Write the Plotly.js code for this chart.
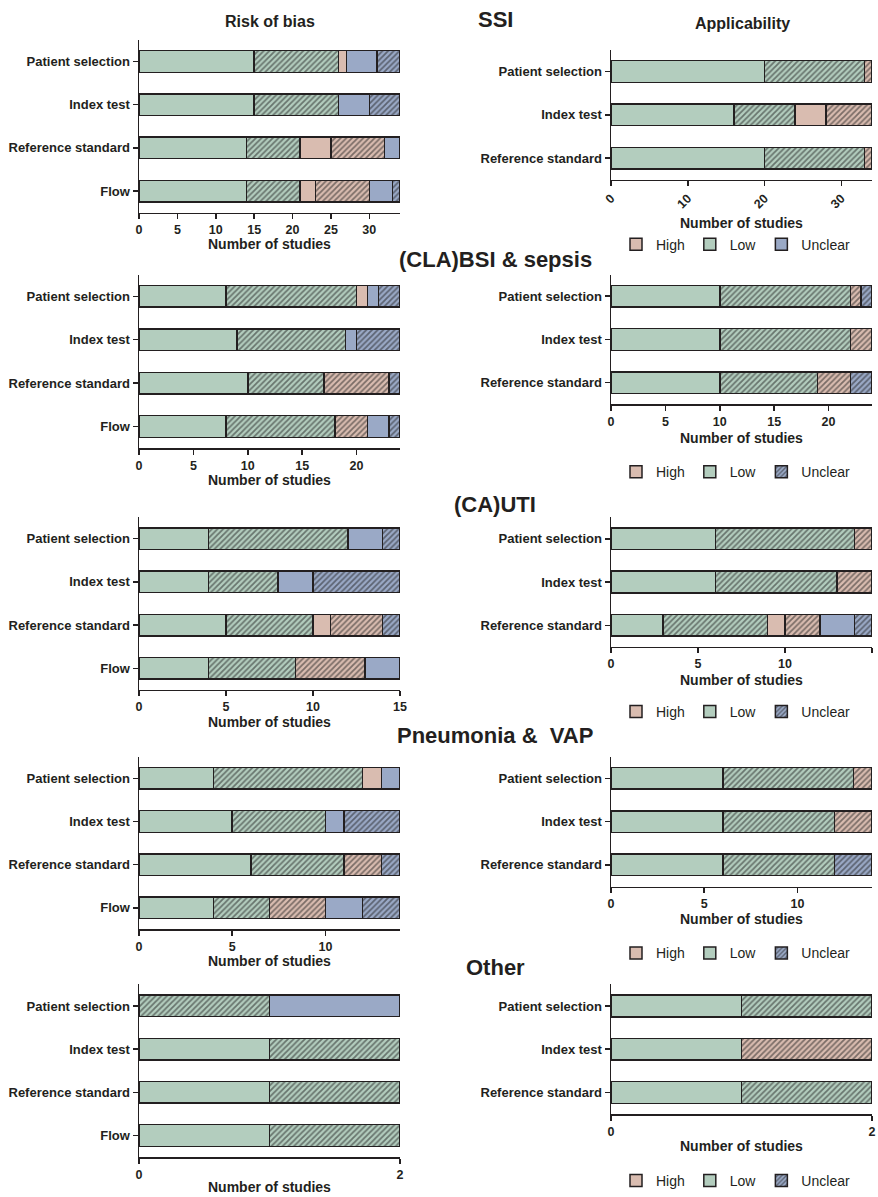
<!DOCTYPE html>
<html><head><meta charset="utf-8">
<script src="https://cdn.plot.ly/plotly-3.0.1.min.js"></script>
<style>html,body{margin:0;padding:0;background:#fff}</style>
</head><body><div id="chart" style="width:878px;height:1197px"></div>
<script>
// ---------- Data ----------
const riskCategories = ['Patient selection', 'Index test', 'Reference standard', 'Flow'];
const applicabilityCategories = ['Patient selection', 'Index test', 'Reference standard'];
const sectionTitles = ['SSI', '(CLA)BSI & sepsis', '(CA)UTI', 'Pneumonia &\u00a0 VAP', 'Other'];
const panelTitles = ['Risk of bias', 'Applicability'];
const legendLabels = ['High', 'Low', 'Unclear'];
const axisTitle = 'Number of studies';

// Segment order in every bar: Low, Low (hatched), High, High (hatched), Unclear, Unclear (hatched)
// SSI
const ssiRiskLow = [15, 15, 14, 14];
const ssiRiskLowH = [11, 11, 7, 7];
const ssiRiskHigh = [1, 0, 4, 2];
const ssiRiskHighH = [0, 0, 7, 7];
const ssiRiskUnclear = [4, 4, 2, 3];
const ssiRiskUnclearH = [3, 4, 0, 1];
const ssiApplLow = [20, 16, 20];
const ssiApplLowH = [13, 8, 13];
const ssiApplHigh = [0, 4, 0];
const ssiApplHighH = [1, 6, 1];
const ssiApplUnclear = [0, 0, 0];
const ssiApplUnclearH = [0, 0, 0];
// (CLA)BSI & sepsis
const bsiRiskLow = [8, 9, 10, 8];
const bsiRiskLowH = [12, 10, 7, 10];
const bsiRiskHigh = [1, 0, 0, 0];
const bsiRiskHighH = [0, 0, 6, 3];
const bsiRiskUnclear = [1, 1, 0, 2];
const bsiRiskUnclearH = [2, 4, 1, 1];
const bsiApplLow = [10, 10, 10];
const bsiApplLowH = [12, 12, 9];
const bsiApplHigh = [0, 0, 0];
const bsiApplHighH = [1, 2, 3];
const bsiApplUnclear = [0, 0, 0];
const bsiApplUnclearH = [1, 0, 2];
// (CA)UTI
const utiRiskLow = [4, 4, 5, 4];
const utiRiskLowH = [8, 4, 5, 5];
const utiRiskHigh = [0, 0, 1, 0];
const utiRiskHighH = [0, 0, 3, 4];
const utiRiskUnclear = [2, 2, 0, 2];
const utiRiskUnclearH = [1, 5, 1, 0];
const utiApplLow = [6, 6, 3];
const utiApplLowH = [8, 7, 6];
const utiApplHigh = [0, 0, 1];
const utiApplHighH = [1, 2, 2];
const utiApplUnclear = [0, 0, 2];
const utiApplUnclearH = [0, 0, 1];
// Pneumonia & VAP
const pneuRiskLow = [4, 5, 6, 4];
const pneuRiskLowH = [8, 5, 5, 3];
const pneuRiskHigh = [1, 0, 0, 0];
const pneuRiskHighH = [0, 0, 2, 3];
const pneuRiskUnclear = [1, 1, 0, 2];
const pneuRiskUnclearH = [0, 3, 1, 2];
const pneuApplLow = [6, 6, 6];
const pneuApplLowH = [7, 6, 6];
const pneuApplHigh = [0, 0, 0];
const pneuApplHighH = [1, 2, 0];
const pneuApplUnclear = [0, 0, 0];
const pneuApplUnclearH = [0, 0, 2];
// Other
const otherRiskLow = [0, 1, 1, 1];
const otherRiskLowH = [1, 1, 1, 1];
const otherRiskHigh = [0, 0, 0, 0];
const otherRiskHighH = [0, 0, 0, 0];
const otherRiskUnclear = [1, 0, 0, 0];
const otherRiskUnclearH = [0, 0, 0, 0];
const otherApplLow = [1, 1, 1];
const otherApplLowH = [1, 0, 1];
const otherApplHigh = [0, 0, 0];
const otherApplHighH = [0, 1, 0];
const otherApplUnclear = [0, 0, 0];
const otherApplUnclearH = [0, 0, 0];

const riskSeries = [
  [ssiRiskLow, ssiRiskLowH, ssiRiskHigh, ssiRiskHighH, ssiRiskUnclear, ssiRiskUnclearH],
  [bsiRiskLow, bsiRiskLowH, bsiRiskHigh, bsiRiskHighH, bsiRiskUnclear, bsiRiskUnclearH],
  [utiRiskLow, utiRiskLowH, utiRiskHigh, utiRiskHighH, utiRiskUnclear, utiRiskUnclearH],
  [pneuRiskLow, pneuRiskLowH, pneuRiskHigh, pneuRiskHighH, pneuRiskUnclear, pneuRiskUnclearH],
  [otherRiskLow, otherRiskLowH, otherRiskHigh, otherRiskHighH, otherRiskUnclear, otherRiskUnclearH]
];
const applSeries = [
  [ssiApplLow, ssiApplLowH, ssiApplHigh, ssiApplHighH, ssiApplUnclear, ssiApplUnclearH],
  [bsiApplLow, bsiApplLowH, bsiApplHigh, bsiApplHighH, bsiApplUnclear, bsiApplUnclearH],
  [utiApplLow, utiApplLowH, utiApplHigh, utiApplHighH, utiApplUnclear, utiApplUnclearH],
  [pneuApplLow, pneuApplLowH, pneuApplHigh, pneuApplHighH, pneuApplUnclear, pneuApplUnclearH],
  [otherApplLow, otherApplLowH, otherApplHigh, otherApplHighH, otherApplUnclear, otherApplUnclearH]
];

// ---------- Styling / geometry ----------
const W = 878, H = 1197;
const FONT = 'Arial, "Liberation Sans", Helvetica, sans-serif';
const INK = '#231f20';
const COLORS = {Low: '#b3cdbe', High: '#d9bcb0', Unclear: '#9aa9c6'};
const SEGMENTS = [
  {name: 'Low', hatch: false}, {name: 'Low', hatch: true},
  {name: 'High', hatch: false}, {name: 'High', hatch: true},
  {name: 'Unclear', hatch: false}, {name: 'Unclear', hatch: true}
];
const LEFT_X = [139, 400], RIGHT_X = [611, 872];
const LEFT_Y = [[40, 213], [275, 449], [518, 691], [758, 931], [986, 1159]];
const RIGHT_Y = [[50, 180], [275, 405], [518, 648], [758, 888], [986, 1116]];
const LEFT_TITLE_Y = [244, 481, 723, 963, 1189];
const RIGHT_TITLE_Y = [223, 439, 681, 921, 1148];
const LEGEND_Y = [245, 473, 713, 955, 1183];
const SECTION_Y = [20, 260, 505, 737, 969];
const TICKS = [
  {l: {dtick: 5}, r: {dtick: 10, tickangle: -45}},
  {l: {dtick: 5}, r: {dtick: 5}},
  {l: {dtick: 5}, r: {dtick: 5}},
  {l: {dtick: 5}, r: {dtick: 5}},
  {l: {tickmode: 'array', tickvals: [0, 2]}, r: {tickmode: 'array', tickvals: [0, 2]}}
];

const traces = [];
const layout = {
  width: W, height: H,
  margin: {l: 0, r: 0, t: 0, b: 0},
  paper_bgcolor: '#fff', plot_bgcolor: 'rgba(0,0,0,0)',
  barmode: 'stack', bargap: 0.5,
  font: {family: FONT, color: INK},
  annotations: [], showlegend: true
};

function total(series) {
  const n = series[0].length; let m = 0;
  for (let i = 0; i < n; i++) { let s = 0; series.forEach(a => s += a[i]); m = Math.max(m, s); }
  return m;
}

let axisIndex = 0;
for (let k = 0; k < 5; k++) {
  ['l', 'r'].forEach(side => {
    axisIndex++;
    const suf = axisIndex === 1 ? '' : String(axisIndex);
    const isLeft = side === 'l';
    const cats = isLeft ? riskCategories : applicabilityCategories;
    const series = isLeft ? riskSeries[k] : applSeries[k];
    const xb = isLeft ? LEFT_X : RIGHT_X;
    const yb = isLeft ? LEFT_Y[k] : RIGHT_Y[k];
    const legendId = k === 0 ? 'legend' : 'legend' + (k + 1);
    SEGMENTS.forEach((seg, s) => {
      const col = COLORS[seg.name];
      let show = false;
      if (!isLeft) {
        if (s === 0 || s === 2) show = true;
        if (seg.name === 'Unclear' && ((k === 0 && s === 4) || (k > 0 && s === 5))) show = true;
      }
      traces.push({
        type: 'bar', orientation: 'h',
        y: cats, x: series[s],
        xaxis: 'x' + suf, yaxis: 'y' + suf,
        name: seg.name, legend: legendId, showlegend: show,
        legendrank: legendLabels.indexOf(seg.name) + 1,
        cliponaxis: false,
        marker: {
          color: col,
          line: {color: INK, width: 1.5},
          pattern: seg.hatch
            ? {shape: '/', fillmode: 'overlay', bgcolor: col, fgcolor: '#1e1e1e', size: 4, solidity: 0.45}
            : {shape: ''}
        },
        hoverinfo: 'skip'
      });
    });
    const tickCfg = TICKS[k][side];
    layout['xaxis' + suf] = Object.assign({
      domain: [xb[0] / W, xb[1] / W],
      range: [0, total(series)],
      anchor: 'y' + suf,
      showline: true, linecolor: INK, linewidth: 1.5,
      ticks: 'outside', ticklen: 5, tickwidth: 1.5, tickcolor: INK,
      tickfont: {size: 12.5, weight: 'bold', color: INK, family: FONT},
      showgrid: false, zeroline: false, fixedrange: true
    }, tickCfg);
    layout['yaxis' + suf] = {
      domain: [1 - yb[1] / H, 1 - yb[0] / H],
      anchor: 'x' + suf,
      type: 'category', categoryorder: 'array', categoryarray: cats,
      range: [cats.length - 0.5, -0.5],
      showline: true, linecolor: INK, linewidth: 1.5,
      ticks: 'outside', ticklen: 5, tickwidth: 1.5, tickcolor: INK,
      tickfont: {size: 13, weight: 'bold', color: INK, family: FONT},
      showgrid: false, zeroline: false, fixedrange: true
    };
    layout.annotations.push({
      text: '<b>' + axisTitle + '</b>',
      xref: 'paper', yref: 'paper',
      x: (xb[0] + xb[1]) / 2 / W, y: 1 - (isLeft ? LEFT_TITLE_Y[k] : RIGHT_TITLE_Y[k]) / H,
      xanchor: 'center', yanchor: 'middle', showarrow: false,
      font: {size: 14, color: INK}
    });
  });
  // legend for the section
  const lid = k === 0 ? 'legend' : 'legend' + (k + 1);
  layout[lid] = {
    orientation: 'h', x: 616 / W, xanchor: 'left',
    y: 1 - LEGEND_Y[k] / H, yanchor: 'middle',
    bgcolor: 'rgba(0,0,0,0)', borderwidth: 0,
    font: {size: 14, color: INK, family: FONT},
    traceorder: 'normal'
  };
  // section title
  layout.annotations.push({
    text: '<b>' + sectionTitles[k] + '</b>',
    xref: 'paper', yref: 'paper', x: 495 / W, y: 1 - SECTION_Y[k] / H,
    xanchor: 'center', yanchor: 'middle', showarrow: false,
    font: {size: 22, color: INK}
  });
}
layout.annotations.push({
  text: '<b>' + panelTitles[0] + '</b>', xref: 'paper', yref: 'paper',
  x: 270 / W, y: 1 - 22 / H, xanchor: 'center', yanchor: 'middle', showarrow: false,
  font: {size: 16, color: INK}
});
layout.annotations.push({
  text: '<b>' + panelTitles[1] + '</b>', xref: 'paper', yref: 'paper',
  x: 742 / W, y: 1 - 24 / H, xanchor: 'center', yanchor: 'middle', showarrow: false,
  font: {size: 16, color: INK}
});

Plotly.newPlot('chart', traces, layout, {displayModeBar: false, staticPlot: true});
</script></body></html>
